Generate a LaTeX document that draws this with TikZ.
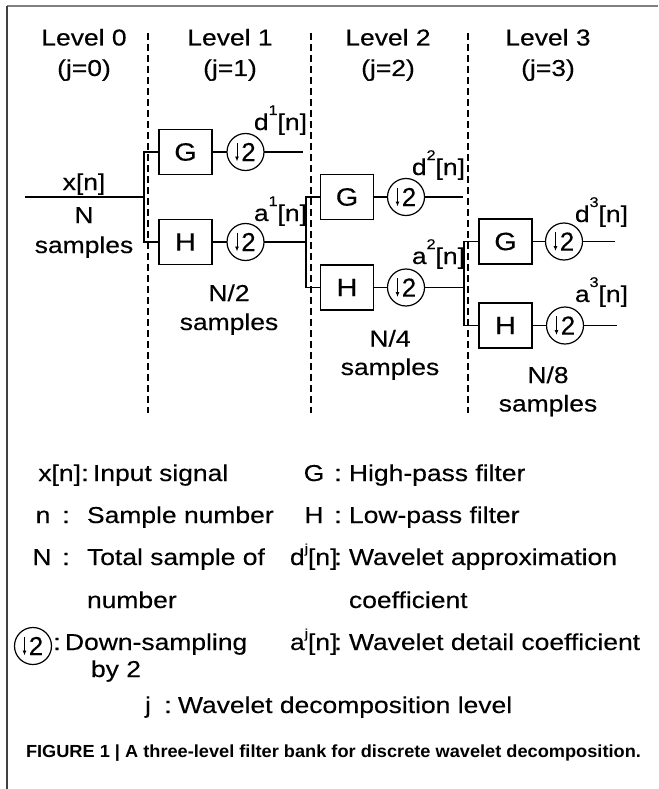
\documentclass[tikz,border=0pt]{standalone}
\usepackage{fontspec}
\setmainfont{Liberation Sans}[FakeStretch=1.15,FakeBold=0.3]
\newfontfamily\plainfont{Liberation Sans}[FakeBold=0.3]
\newfontfamily\capfont{Liberation Sans}[FakeStretch=1.04]
\usetikzlibrary{arrows.meta}
\newcommand\supr[1]{\raisebox{15pt}{\fontsize{14}{14}\selectfont #1}}
\newcommand\supj[1]{\raisebox{12pt}{\fontsize{13}{13}\selectfont #1}}
\newcommand\dsnode[3]{%
  \node[dsc] (#1) at (#2,#3) {\hspace{6pt}2};
  \draw[dsarrow] ([shift={(-8.5,-9.5)}]#1.center) -- ([shift={(-8.5,9.5)}]#1.center);}
\begin{document}
\begin{tikzpicture}[x=1pt,y=-1pt,
  every node/.style={inner sep=0pt, outer sep=0pt},
  lbl/.style={font=\fontsize{23}{27}\selectfont, anchor=base},
  lblw/.style={font=\fontsize{23}{27}\selectfont, anchor=base west},
  lble/.style={font=\fontsize{23}{27}\selectfont, anchor=base east},
  fbox/.style={draw, line width=1.2pt, minimum width=53pt, minimum height=45pt, font=\fontsize{25}{28}\selectfont},
  dsc/.style={draw, circle, line width=1.2pt, minimum size=37pt, font=\plainfont\fontsize{26}{28}\selectfont},
  dsarrow/.style={line width=0.9pt, -{Latex[length=5pt,width=4pt]}},
  wire/.style={line width=1.2pt},
  sep/.style={line width=1.1pt, dash pattern=on 7pt off 4pt},
  capt/.style={font=\capfont\bfseries\fontsize{17.5}{20}\selectfont, anchor=base west}
]
\useasboundingbox (0,0) rectangle (658,789);
% frame
\draw[line width=2pt, gray] (7,6.5) -- (658,6.5);
\draw[line width=1.3pt, black!75] (7,6.5) -- (7,789);

% level headers
\node[lbl] (L0) at (84,45.5) {Level 0};
\node[lbl] (J0) at (84,76) {(j=0)};
\node[lbl] (L1) at (230,45.5) {Level 1};
\node[lbl] (J1) at (230,76) {(j=1)};
\node[lbl] (L2) at (388,45.5) {Level 2};
\node[lbl] (J2) at (388,76) {(j=2)};
\node[lbl] (L3) at (548,45.5) {Level 3};
\node[lbl] (J3) at (548,76) {(j=3)};

% separators
\coordinate (v1t) at (148,33); \coordinate (v1b) at (148,413);
\coordinate (v2t) at (311,33); \coordinate (v2b) at (311,413);
\coordinate (v3t) at (468,33); \coordinate (v3b) at (468,413);
\draw[sep] (v1t) -- (v1b);
\draw[sep] (v2t) -- (v2b);
\draw[sep] (v3t) -- (v3b);

% level 0
\coordinate (in) at (25,197);
\coordinate (s0) at (144,197);
\node[lbl] (xn) at (84,190) {x[n]};
\node[lbl] (N0) at (84,223) {N};
\node[lbl] (S0) at (84,253) {samples};

% level 1
\node[fbox] (G1) at (185.5,152) {G};
\node[fbox] (H1) at (185.5,242) {H};
\dsnode{D1}{245.5}{152}
\dsnode{E1}{245.5}{242}
\coordinate (d1o) at (303,152);
\coordinate (s1) at (306,242);
\node[lble] (d1) at (307,130) {d\supr{1}[n]};
\node[lble] (a1) at (307,221) {a\supr{1}[n]};
\node[lbl] (N2) at (229,301) {N/2};
\node[lbl] (S2) at (229,330) {samples};

% level 2
\node[fbox] (G2) at (347,197) {G};
\node[fbox] (H2) at (347,287.5) {H};
\dsnode{D2}{406}{197}
\dsnode{E2}{406}{287.5}
\coordinate (d2o) at (463,197);
\coordinate (s2) at (464,287.5);
\node[lble] (d2) at (465,175) {d\supr{2}[n]};
\node[lble] (a2) at (465,264) {a\supr{2}[n]};
\node[lbl] (N4) at (390,346.5) {N/4};
\node[lbl] (S4) at (390,375) {samples};

% level 3
\node[fbox] (G3) at (505.5,241.5) {G};
\node[fbox] (H3) at (505.5,325.5) {H};
\dsnode{D3}{564}{241.5}
\dsnode{E3}{565}{325.5}
\coordinate (d3o) at (615,241.5);
\coordinate (a3o) at (617,325.5);
\node[lble] (d3) at (628,222) {d\supr{3}[n]};
\node[lble] (a3) at (628,302) {a\supr{3}[n]};
\node[lbl] (N8) at (548,383) {N/8};
\node[lbl] (S8) at (548,411.5) {samples};

% wires
\draw[wire] (in) -- (s0);
\draw[wire] (G1.west) -| (s0) |- (H1.west);
\draw[wire] (G1) -- (D1);
\draw[wire] (H1) -- (E1);
\draw[wire] (D1) -- (d1o);
\draw[wire] (E1) -- (s1);
\draw[wire] (G2.west) -| (s1) |- (H2.west);
\draw[wire] (G2) -- (D2);
\draw[wire] (H2) -- (E2);
\draw[wire] (D2) -- (d2o);
\draw[wire] (E2) -- (s2);
\draw[wire] (G3.west) -| (s2) |- (H3.west);
\draw[wire] (G3) -- (D3);
\draw[wire] (H3) -- (E3);
\draw[wire] (D3) -- (d3o);
\draw[wire] (E3) -- (a3o);

% legend
\node[lble] (kx) at (81,481) {x[n]};
\node[lbl] (cx) at (85,481) {:};
\node[lblw] (tx) at (93,481) {Input signal};
\node[lbl] (kG) at (314,481) {G};
\node[lbl] (cG) at (338,481) {:};
\node[lblw] (tG) at (349,481) {High-pass filter};

\node[lbl] (kn) at (43,523) {n};
\node[lbl] (cn) at (66,523) {:};
\node[lblw] (tn) at (87,523) {Sample number};
\node[lbl] (kH) at (314,523) {H};
\node[lbl] (cH) at (338,523) {:};
\node[lblw] (tH) at (349,523) {Low-pass filter};

\node[lbl] (kN) at (42,565) {N};
\node[lbl] (cN) at (66,565) {:};
\node[lblw] (tN) at (87,565) {Total sample of};
\node[lblw] (tN2) at (87,608) {number};
\node[lblw] (kd) at (290,565) {d\supj{j}[n]};
\node[lbl] (cd) at (338,565) {:};
\node[lblw] (td) at (349,565) {Wavelet approximation};
\node[lblw] (td2) at (349,608) {coefficient};

\dsnode{KD}{33}{646}
\node[lbl] (cD) at (57,650) {:};
\node[lblw] (tD) at (65,650) {Down-sampling};
\node[lblw] (tD2) at (91,677) {by 2};
\node[lblw] (ka) at (290,650) {a\supj{j}[n]};
\node[lbl] (ca) at (338,650) {:};
\node[lblw] (ta) at (349,650) {Wavelet detail coefficient};

\node[lbl] (kj) at (148,713) {j};
\node[lbl] (cj) at (168,713) {:};
\node[lblw] (tj) at (178,713) {Wavelet decomposition level};

\node[capt] (cap) at (26,757) {FIGURE 1 | A three-level filter bank for discrete wavelet decomposition.};
\end{tikzpicture}
\end{document}
